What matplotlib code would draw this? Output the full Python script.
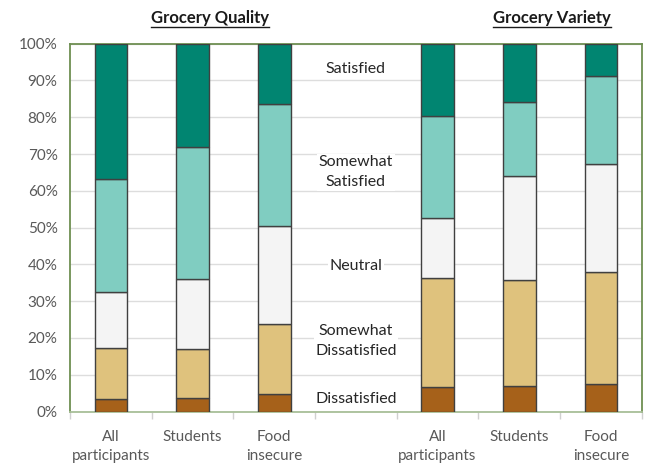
import numpy as np
import matplotlib.pyplot as plt
from matplotlib.lines import Line2D

groups = ['All\nparticipants', 'Students', 'Food\ninsecure', '',
          'All\nparticipants', 'Students', 'Food\ninsecure']
levels = ['Dissatisfied', 'Somewhat\nDissatisfied', 'Neutral',
          'Somewhat\nSatisfied', 'Satisfied']

# percentages per level, quality bars then variety bars (middle slot empty)
dissatisfied      = [3.5, 3.8, 4.9, 0, 6.8, 7.0, 7.4]
somewhat_dissat   = [13.9, 13.1, 19.0, 0, 29.4, 28.8, 30.5]
neutral           = [15.1, 19.0, 26.6, 0, 16.3, 28.2, 29.3]
somewhat_sat      = [30.7, 36.0, 33.1, 0, 27.9, 20.1, 23.9]
satisfied         = [36.8, 28.1, 16.4, 0, 19.6, 15.9, 8.9]
label_y           = [3.4, 19.2, 39.5, 65.1, 93.1]

colors = ['#A6611A', '#DFC27D', '#F4F4F4', '#80CDC1', '#018571']
series = [dissatisfied, somewhat_dissat, neutral, somewhat_sat, satisfied]

plt.rcParams['font.family'] = ['Lato', 'DejaVu Sans']

fig = plt.figure(figsize=(6.46, 4.65), dpi=100)
ax = fig.add_axes([0.1084, 0.115, 0.885, 0.791])

x = np.arange(len(groups))
bars_x = [i for i in x if groups[i] != '']
bottom = np.zeros(len(groups))
for vals, col in zip(series, colors):
    vals = np.array(vals, dtype=float)
    ax.bar([x[i] for i in bars_x], vals[bars_x], 0.4, bottom=bottom[bars_x],
           color=col, edgecolor='#404040', linewidth=1, zorder=3)
    bottom += vals

for lab, yy in zip(levels, label_y):
    ax.text(3, yy, lab, ha='center', va='center', fontsize=11.5,
            color='#262626', linespacing=1.55, zorder=4,
            bbox=dict(facecolor='white', edgecolor='none', pad=1))

ax.set_xlim(-0.5, 6.5)
ax.set_ylim(0, 100)
ax.set_yticks(np.arange(0, 101, 10))
ax.set_yticklabels(['%d%%' % v for v in range(0, 101, 10)], fontsize=11,
                   color='#595959')
ax.yaxis.grid(True, color='#DDDDDD', linewidth=1, zorder=0)
ax.tick_params(axis='y', length=0, pad=9)

ax.set_xticks(np.arange(-0.5, 7, 1))
ax.set_xticklabels([])
ax.set_xticks(x, minor=True)
ax.set_xticklabels(groups, minor=True, fontsize=11, color='#595959',
                   linespacing=1.5)
ax.tick_params(axis='x', which='major', length=5, color='#D0D0D0', width=1)
ax.tick_params(axis='x', which='minor', length=0, pad=13)

for s in ['top', 'left', 'right']:
    ax.spines[s].set_color('#6E8F52')
    ax.spines[s].set_linewidth(1.3)
ax.spines['bottom'].set_color('#A8BF98')
ax.spines['bottom'].set_linewidth(1.3)

# underlined titles
renderer = fig.canvas.get_renderer()
for tx, title in [(1.21, 'Grocery Quality'), (5.4, 'Grocery Variety')]:
    t = ax.text(tx, 107, title, ha='center', va='center', fontsize=12,
                fontweight='bold', color='#1a1a1a')
    bb = t.get_window_extent(renderer=renderer)
    yline = (bb.y0 - 1) / fig.bbox.height
    fig.add_artist(Line2D([bb.x0 / fig.bbox.width, bb.x1 / fig.bbox.width],
                          [yline, yline], color='#1a1a1a', linewidth=1))

fig.savefig('out.png', dpi=100)
